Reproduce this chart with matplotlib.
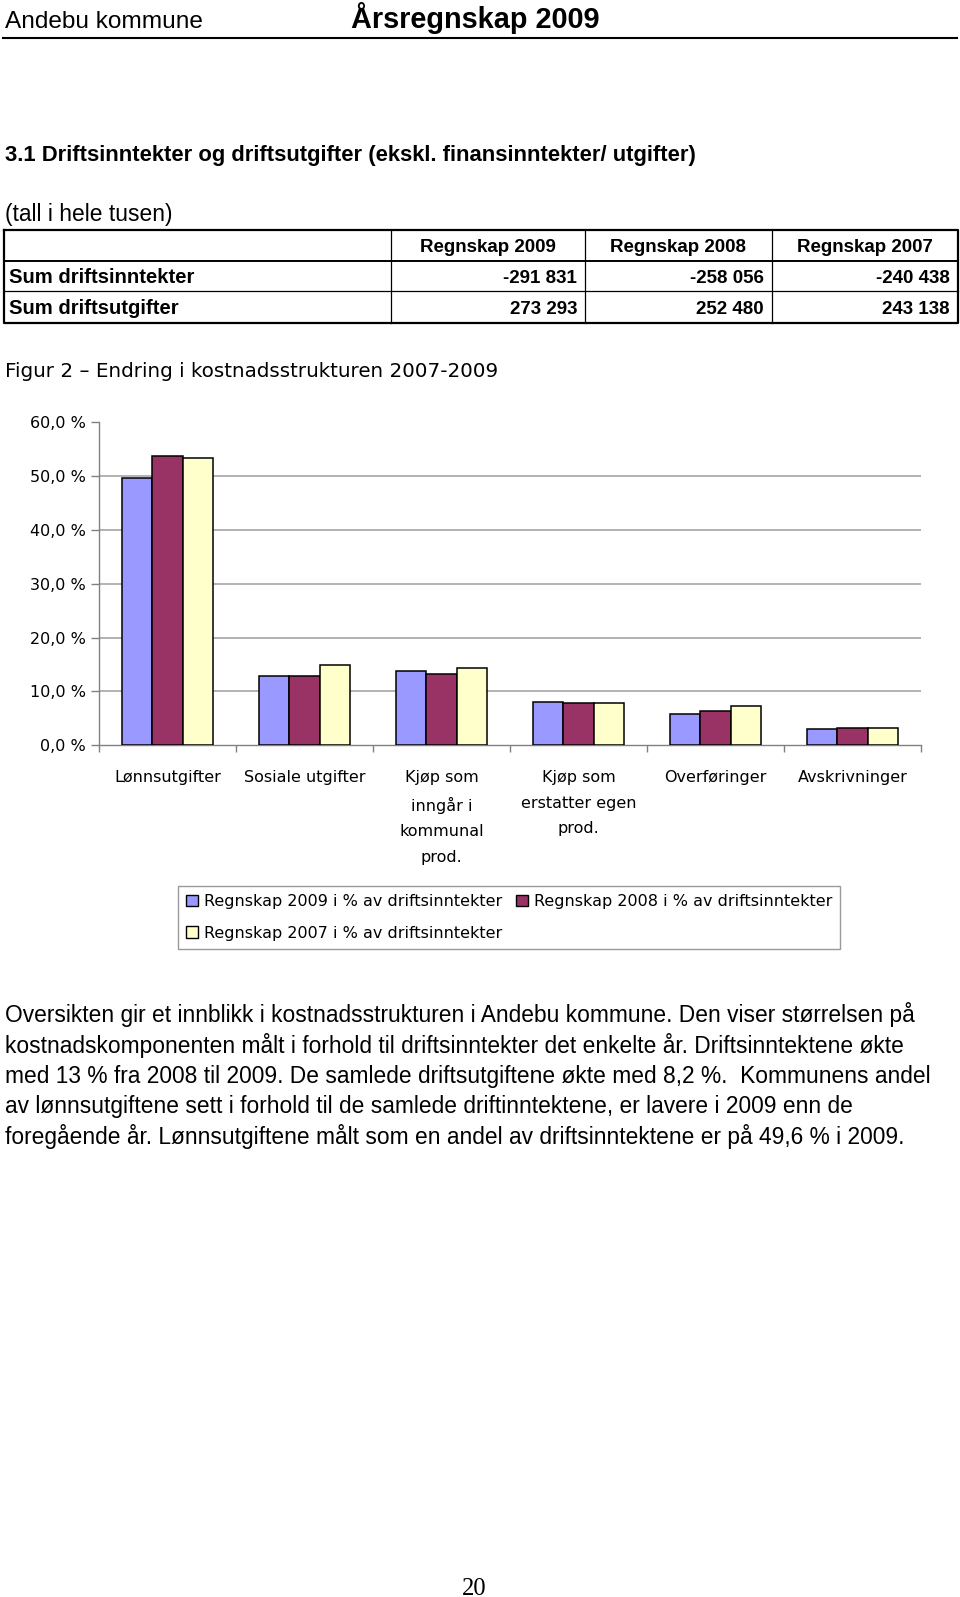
import numpy as np
import matplotlib
matplotlib.use('Agg')
from matplotlib import pyplot as plt
from matplotlib.patches import Patch

W, H = 960, 1597

# Table (tall i hele tusen)
table_cols = ['Regnskap 2009', 'Regnskap 2008', 'Regnskap 2007']
table_rows = ['Sum driftsinntekter', 'Sum driftsutgifter']
table_vals = [['-291 831', '-258 056', '-240 438'],
              ['273 293', '252 480', '243 138']]

# Chart data, % of driftsinntekter
categories = ['Lønnsutgifter', 'Sosiale utgifter', 'Kjøp som\ninngår i\nkommunal\nprod.',
              'Kjøp som\nerstatter egen\nprod.', 'Overføringer', 'Avskrivninger']
pct_2009 = [49.6, 12.9, 13.8, 8.1, 5.9, 3.0]
pct_2008 = [53.8, 12.9, 13.3, 7.9, 6.4, 3.3]
pct_2007 = [53.3, 14.9, 14.4, 7.9, 7.3, 3.3]
series_labels = ['Regnskap 2009 i % av driftsinntekter',
                 'Regnskap 2008 i % av driftsinntekter',
                 'Regnskap 2007 i % av driftsinntekter']
series_colors = ['#9999ff', '#993366', '#ffffcc']
yticks = [0, 10, 20, 30, 40, 50, 60]
ytick_labels = ['0,0 %', '10,0 %', '20,0 %', '30,0 %', '40,0 %', '50,0 %', '60,0 %']

paragraph = [
    'Oversikten gir et innblikk i kostnadsstrukturen i Andebu kommune. Den viser størrelsen på',
    'kostnadskomponenten målt i forhold til driftsinntekter det enkelte år. Driftsinntektene økte',
    'med 13 % fra 2008 til 2009. De samlede driftsutgiftene økte med 8,2 %.  Kommunens andel',
    'av lønnsutgiftene sett i forhold til de samlede driftinntektene, er lavere i 2009 enn de',
    'foregående år. Lønnsutgiftene målt som en andel av driftsinntektene er på 49,6 % i 2009.',
]

SANS = 'Liberation Sans'

fig = plt.figure(figsize=(9.6, 15.97), dpi=100)
page = fig.add_axes([0, 0, 1, 1])
page.set_xlim(0, W)
page.set_ylim(H, 0)
page.axis('off')

# page header
page.text(5, 28.5, 'Andebu kommune', fontsize=17.6, family=SANS, va='baseline')
page.text(351, 28.5, 'Årsregnskap 2009', fontsize=20.8, family=SANS, weight='bold', va='baseline')
page.plot([3, 957], [38, 38], color='black', lw=1.5)

page.text(5, 161, '3.1 Driftsinntekter og driftsutgifter (ekskl. finansinntekter/ utgifter)',
          fontsize=15.8, family=SANS, weight='bold', va='baseline')
page.text(5, 220.5, '(tall i hele tusen)', fontsize=16.4, family=SANS, va='baseline')

# table grid
col_edges = [4, 391, 585, 772, 958]
row_edges = [229.5, 260.5, 291, 322.5]
page.plot([4, 958, 958, 4, 4], [229.5, 229.5, 322.5, 322.5, 229.5], color='black', lw=1.6)
page.plot([4, 958], [row_edges[1]] * 2, color='black', lw=1.4)
page.plot([4, 958], [row_edges[2]] * 2, color='black', lw=0.9)
for xe in col_edges[1:-1]:
    page.plot([xe, xe], [229.5, 322.5], color='black', lw=0.9)

for j, name in enumerate(table_cols):
    page.text((col_edges[j + 1] + col_edges[j + 2]) / 2, 252.5, name, ha='center',
              va='baseline', fontsize=13.5, family=SANS, weight='bold')
for i, name in enumerate(table_rows):
    yb = [283, 313.5][i]
    page.text(9, yb, name, fontsize=14.6, family=SANS, weight='bold', va='baseline')
    for j, v in enumerate(table_vals[i]):
        page.text(col_edges[j + 2] - 8, yb, v, ha='right', va='baseline',
                  fontsize=13.5, family=SANS, weight='bold')

page.text(5, 377, 'Figur 2 – Endring i kostnadsstrukturen 2007-2009', fontsize=14.3,
          family='DejaVu Sans', va='baseline')

# bar chart
ax = fig.add_axes([99 / W, 1 - 745.3 / H, 822 / W, 323 / H])
x = np.arange(len(categories)) + 0.5
bw = 0.222
for i, (vals, col, lab) in enumerate(zip([pct_2009, pct_2008, pct_2007], series_colors, series_labels)):
    ax.bar(x + (i - 1) * bw, vals, bw, color=col, edgecolor='black', linewidth=1.1,
           label=lab, zorder=3)

ax.set_xlim(0, 6)
ax.set_ylim(0, 60)
for v in yticks[1:-1]:
    ax.axhline(v, color='#a6a6a6', lw=1.2, zorder=1)
ax.set_yticks(yticks)
ax.set_yticklabels(ytick_labels, fontsize=11.5)
ax.set_xticks(x)
ax.set_xticklabels(categories, fontsize=11.5, linespacing=1.85)
ax.set_xticks(np.arange(7), minor=True)
ax.tick_params(axis='x', which='major', length=0, pad=18)
ax.tick_params(axis='x', which='minor', length=5, color='#808080', width=1)
ax.tick_params(axis='y', length=6, color='#808080', width=1, pad=3.5)
for s in ['top', 'right']:
    ax.spines[s].set_visible(False)
for s in ['left', 'bottom']:
    ax.spines[s].set_color('#808080')
    ax.spines[s].set_linewidth(1)

handles = [Patch(facecolor=c, edgecolor='black', lw=1) for c in series_colors]
order = [0, 2, 1]
leg = fig.legend([handles[k] for k in order], [series_labels[k] for k in order],
                 loc='upper left', bbox_to_anchor=(178 / W, 1 - 886 / H), ncol=2,
                 frameon=True, fancybox=False, edgecolor='#808080', fontsize=11.5,
                 handlelength=0.75, handleheight=0.75, handletextpad=0.35,
                 columnspacing=0.9, borderpad=0.5, labelspacing=1.05, borderaxespad=0)
leg.get_frame().set_linewidth(1)

# text below the chart
for k, line in enumerate(paragraph):
    page.text(5, 1022 + 30.5 * k, line, fontsize=16.4, family=SANS, va='baseline')

page.text(474, 1595, '20', fontsize=17.7, family='Liberation Serif', ha='center', va='baseline')

fig.savefig('out.png', dpi=100)
